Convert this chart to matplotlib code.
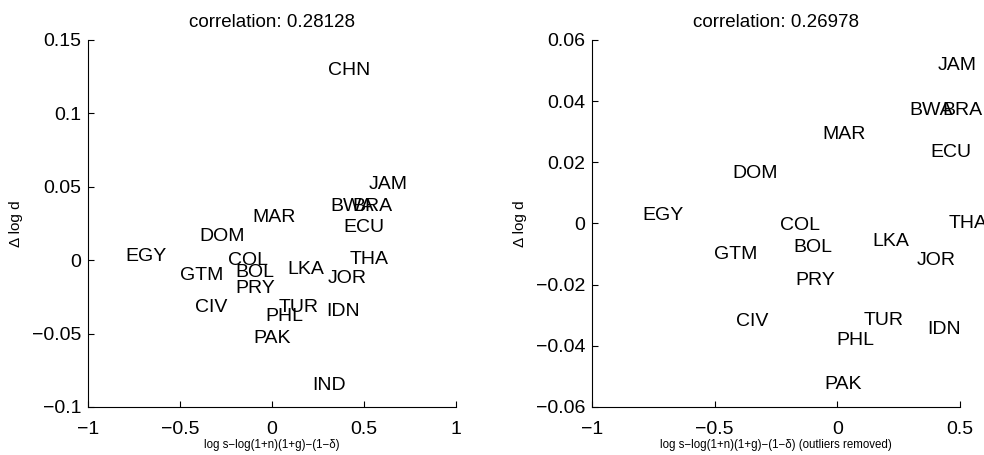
import numpy as np
import matplotlib
matplotlib.use("Agg")
import matplotlib.pyplot as plt
from matplotlib.ticker import FuncFormatter

plt.rcParams['font.family'] = ['Liberation Sans', 'DejaVu Sans']

# full sample
codes_all = ['CHN', 'JAM', 'BWA', 'BRA', 'MAR', 'ECU', 'DOM', 'EGY', 'COL', 'THA',
             'GTM', 'BOL', 'LKA', 'JOR', 'PRY', 'CIV', 'TUR', 'IDN', 'PHL', 'PAK', 'IND']
x_all = [0.306, 0.523, 0.315, 0.435, -0.107, 0.388, -0.397, -0.795, -0.237, 0.420,
         -0.500, -0.201, 0.083, 0.301, -0.197, -0.418, 0.034, 0.297, -0.038, -0.102, 0.219]
y_all = [0.129, 0.0516, 0.0363, 0.0363, 0.0290, 0.0225, 0.0163, 0.0027, -0.0005, 0.0007,
         -0.0102, -0.0086, -0.0064, -0.0125, -0.0193, -0.0322, -0.0322, -0.0352, -0.0386, -0.0533, -0.0851]

# outliers removed
codes_trim = ['JAM', 'BWA', 'BRA', 'MAR', 'ECU', 'DOM', 'EGY', 'COL', 'THA', 'LKA',
              'BOL', 'GTM', 'JOR', 'PRY', 'CIV', 'TUR', 'IDN', 'PHL', 'PAK']
x_trim = [0.408, 0.293, 0.428, -0.059, 0.379, -0.429, -0.794, -0.232, 0.455, 0.144,
          -0.178, -0.501, 0.325, -0.171, -0.412, 0.107, 0.368, -0.004, -0.053]
y_trim = [0.0518, 0.0368, 0.0368, 0.0292, 0.0233, 0.0164, 0.0026, -0.0008, 0.0000, -0.0060,
          -0.0078, -0.0101, -0.0122, -0.0188, -0.0321, -0.0316, -0.0346, -0.0384, -0.0528]

corr_all = 0.28128
corr_trim = 0.26978


def fmt(v, pos):
    s = '%g' % round(v, 6)
    return s.replace('-', '\u2212')


def setup(ax, xlim, ylim, xticks, yticks):
    ax.set_xlim(xlim)
    ax.set_ylim(ylim)
    ax.set_xticks(xticks)
    ax.set_yticks(yticks)
    ax.xaxis.set_major_formatter(FuncFormatter(fmt))
    ax.yaxis.set_major_formatter(FuncFormatter(fmt))
    ax.spines['top'].set_visible(False)
    ax.spines['right'].set_visible(False)
    ax.tick_params(direction='in', length=4, labelsize=14)
    ax.tick_params(axis='x', pad=10)
    ax.tick_params(axis='y', pad=5)
    ax.patch.set_alpha(0)


fig = plt.figure(figsize=(9.84, 4.55), dpi=100)
ax1 = fig.add_axes([0.0894, 0.1055, 0.374, 0.8066])
ax2 = fig.add_axes([0.6016, 0.1055, 0.374, 0.8066])

setup(ax1, (-1, 1), (-0.1, 0.15), np.arange(-1, 1.01, 0.5), np.arange(-0.1, 0.151, 0.05))
setup(ax2, (-1, 0.5), (-0.06, 0.06), np.arange(-1, 0.51, 0.5), np.arange(-0.06, 0.061, 0.02))

for c, x, y in zip(codes_all, x_all, y_all):
    ax1.text(x, y, c, ha='left', va='center', fontsize=14)
for c, x, y in zip(codes_trim, x_trim, y_trim):
    ax2.text(x, y, c, ha='left', va='center', fontsize=14)

ax1.set_title('correlation: %.5f' % corr_all, fontsize=13.5, pad=9)
ax2.set_title('correlation: %.5f' % corr_trim, fontsize=13.5, pad=9)
ax1.set_xlabel('log s\u2212log(1+n)(1+g)\u2212(1\u2212\u03b4)', fontsize=8.3, labelpad=1)
ax2.set_xlabel('log s\u2212log(1+n)(1+g)\u2212(1\u2212\u03b4) (outliers removed)', fontsize=8.3, labelpad=1)
ax1.set_ylabel('\u0394 log d', fontsize=11)
ax2.set_ylabel('\u0394 log d', fontsize=11)
# ylabel right edge about 22 px in from the figure / panel gap
ax1.yaxis.set_label_coords((23 - 88) / 368, 0.5)
ax2.yaxis.set_label_coords((527 - 592) / 368, 0.5)

fig.savefig('out.png', dpi=100)
